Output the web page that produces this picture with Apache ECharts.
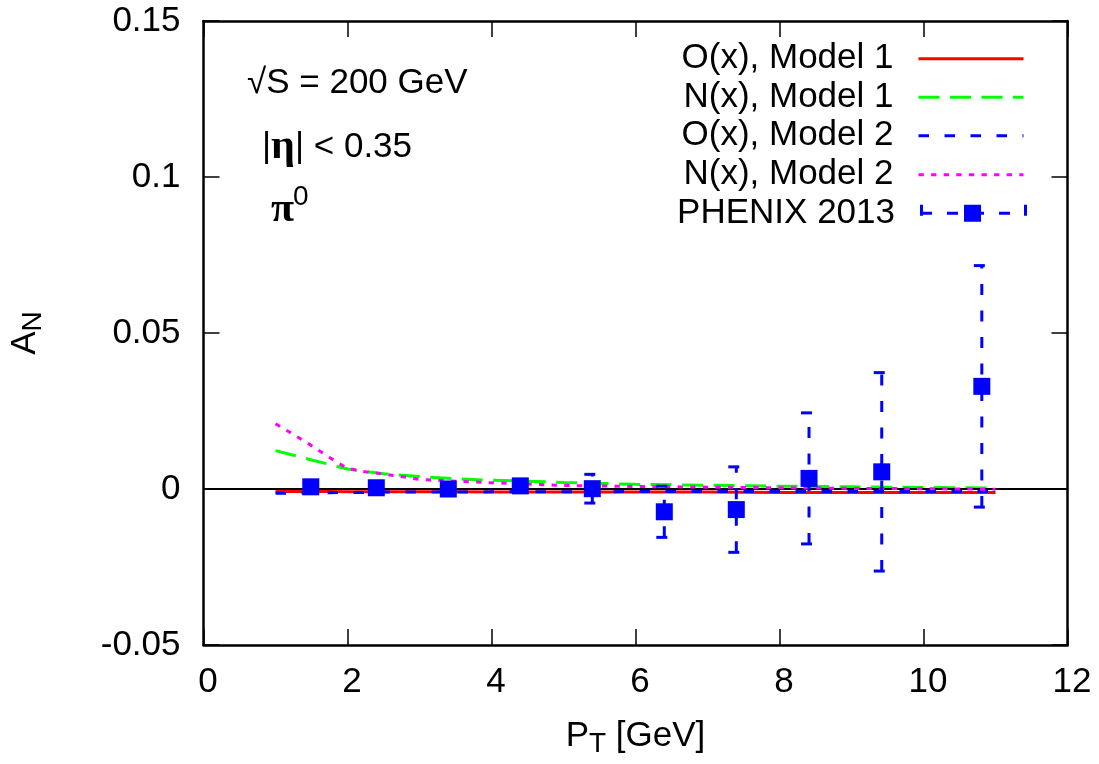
<!DOCTYPE html>
<html><head><meta charset="utf-8">
<script src="https://cdn.jsdelivr.net/npm/echarts@6/dist/echarts.min.js"></script>
<style>html,body{margin:0;padding:0;background:#fff}#c{width:1099px;height:764px}</style>
</head><body><div id="c"></div>
<script>
// ---- data ----
const modelX  = [1, 1.25, 1.5, 1.75, 2, 2.25, 2.5, 3, 3.5, 4, 4.5, 5, 5.5, 6, 7, 8, 9, 10, 11];
const oModel1 = [-0.0008,-0.0008,-0.0008,-0.0008,-0.0009,-0.0009,-0.0009,-0.0009,-0.0009,-0.0010,-0.0010,-0.0010,-0.0010,-0.0010,-0.0010,-0.0011,-0.0011,-0.0011,-0.0011];
const nModel1 = [0.0123,0.0108,0.0093,0.0079,0.0064,0.0056,0.0049,0.0040,0.0033,0.0028,0.0025,0.0021,0.0018,0.0015,0.0012,0.0009,0.0007,0.0005,0.0003];
const oModel2 = [-0.0014,-0.0013,-0.0012,-0.0012,-0.0011,-0.0011,-0.0010,-0.0010,-0.0010,-0.0009,-0.0009,-0.0009,-0.0009,-0.0008,-0.0008,-0.0008,-0.0008,-0.0008,-0.0008];
const nModel2 = [0.0209,0.0175,0.0139,0.0101,0.0066,0.0055,0.0048,0.0031,0.0025,0.0020,0.0016,0.0011,0.0010,0.0008,0.0006,0.0004,0.0002,0.0001,-0.0001];
const phenixX   = [1.49, 2.40, 3.40, 4.40, 5.40, 6.40, 7.40, 8.41, 9.42, 10.81];
const phenixY   = [0.0007, 0.0004, 0.0000, 0.0010, 0.0001, -0.0073, -0.0066, 0.0034, 0.0055, 0.0329];
const phenixErr = [0.0012, 0.0011, 0.0012, 0.0013, 0.0046, 0.0082, 0.0137, 0.0210, 0.0318, 0.0387];
const seriesNames = ['O(x), Model 1', 'N(x), Model 1', 'O(x), Model 2', 'N(x), Model 2', 'PHENIX 2013'];
const xTicks = {min: 0, max: 12, interval: 2};
const yTicks = {min: -0.05, max: 0.15, interval: 0.05};

const SANS = '"Liberation Sans", Arial, sans-serif';
const SERIF = '"Liberation Serif", "DejaVu Serif", serif';
const BLACK = '#000000';

const pair = (xs, ys) => xs.map((x, i) => [x, ys[i]]);

const phenixIcon = 'path://M0 0H3V11H0Z M0 7H12V10H0Z M27 7H38V10H27Z M44 0H61V17H44Z M61 7H64V10H61Z M79 7H90V10H79Z M104 0H107V11H104Z';

const legendTops = [41.3, 79.7, 118.3, 157.3, 195.7];
const legends = seriesNames.map((name, i) => {
  const isData = i === 4;
  const lg = {
    data: [name],
    orient: 'vertical',
    align: 'right',
    right: isData ? 72 : 74,
    top: legendTops[i],
    padding: 0,
    itemWidth: isData ? 107 : 105,
    itemHeight: 17,
    selectedMode: false,
    formatter: '{t|{name}}',
    textStyle: {
      color: BLACK,
      fontFamily: SANS,
      fontSize: 35,
      rich: { t: { color: BLACK, fontFamily: SANS, fontSize: 35, lineHeight: 36, padding: [0, 20, 0, 0] } }
    },
    lineStyle: { width: 3 }
  };
  if (isData) lg.icon = phenixIcon;
  else lg.itemStyle = { opacity: 0 };
  return lg;
});

const axisLineStyle = { color: BLACK, width: 2.5 };
const tickStyle = { show: true, inside: true, length: 16, lineStyle: { color: BLACK, width: 1.5 } };

const option = {
  animation: false,
  backgroundColor: '#ffffff',
  grid: { left: 203.5, right: 31.5, top: 21, bottom: 119, containLabel: false, outerBoundsMode: 'none' },
  legend: legends,
  xAxis: [
    {
      type: 'value', min: xTicks.min, max: xTicks.max, interval: xTicks.interval, position: 'bottom',
      axisLine: { show: true, onZero: false, lineStyle: axisLineStyle },
      axisTick: tickStyle,
      splitLine: { show: false },
      axisLabel: { show: true, color: BLACK, fontFamily: SANS, fontSize: 35, margin: 20, padding: [0, 0, 0, 9] },
      name: '{p|P}{s|T}{g| [GeV]}',
      nameLocation: 'middle',
      nameGap: 69.5,
      nameTextStyle: {
        color: BLACK, fontFamily: SANS, fontSize: 35,
        rich: {
          p: { color: BLACK, fontFamily: SANS, fontSize: 35, lineHeight: 44, verticalAlign: 'middle' },
          s: { color: BLACK, fontFamily: SANS, fontSize: 28, lineHeight: 14, verticalAlign: 'bottom' },
          g: { color: BLACK, fontFamily: SANS, fontSize: 35, lineHeight: 44, verticalAlign: 'middle' }
        }
      }
    },
    {
      type: 'value', min: xTicks.min, max: xTicks.max, interval: xTicks.interval, position: 'top',
      axisLine: { show: true, onZero: false, lineStyle: axisLineStyle },
      axisTick: tickStyle,
      splitLine: { show: false },
      axisLabel: { show: false }
    }
  ],
  yAxis: [
    {
      type: 'value', min: yTicks.min, max: yTicks.max, interval: yTicks.interval, position: 'left',
      axisLine: { show: true, onZero: false, lineStyle: axisLineStyle },
      axisTick: tickStyle,
      splitLine: { show: false },
      axisLabel: { show: true, color: BLACK, fontFamily: SANS, fontSize: 35, margin: 23 },
      name: '{a|A}{n|N}',
      nameLocation: 'middle',
      nameRotate: 90,
      nameGap: 156,
      nameTextStyle: {
        color: BLACK, fontFamily: SANS, fontSize: 35,
        rich: {
          a: { color: BLACK, fontFamily: SANS, fontSize: 35, lineHeight: 44, verticalAlign: 'middle' },
          n: { color: BLACK, fontFamily: SANS, fontSize: 28, lineHeight: 14, verticalAlign: 'bottom' }
        }
      }
    },
    {
      type: 'value', min: yTicks.min, max: yTicks.max, interval: yTicks.interval, position: 'right',
      axisLine: { show: true, onZero: false, lineStyle: axisLineStyle },
      axisTick: tickStyle,
      splitLine: { show: false },
      axisLabel: { show: false }
    }
  ],
  graphic: [
    { type: 'text', x: 247, y: 83, silent: true,
      style: { text: '√S = 200 GeV', font: '35px ' + SANS, fill: BLACK, align: 'left', verticalAlign: 'middle' } },
    { type: 'text', x: 262, y: 147, silent: true,
      style: { text: '{s||}{g|η}{s|| < 0.35}', fill: BLACK, align: 'left', verticalAlign: 'middle',
        rich: {
          s: { fontFamily: SANS, fontSize: 35, fill: BLACK, lineHeight: 40 },
          g: { fontFamily: SERIF, fontSize: 42, fontWeight: 'bold', fill: BLACK, lineHeight: 40 }
        } } },
    { type: 'text', x: 271, y: 210, silent: true,
      style: { text: 'π', font: 'bold 42px ' + SERIF, fill: BLACK, align: 'left', verticalAlign: 'middle' } },
    { type: 'text', x: 293, y: 197, silent: true,
      style: { text: '0', font: '28px ' + SANS, fill: BLACK, align: 'left', verticalAlign: 'middle' } }
  ],
  series: [
    {
      name: seriesNames[0], type: 'line', data: pair(modelX, oModel1), symbol: 'none', smooth: false,
      lineStyle: { color: '#ff0000', width: 3, type: 'solid' }, itemStyle: { color: '#ff0000' }, z: 2,
      markLine: {
        silent: true, symbol: 'none', label: { show: false }, animation: false,
        lineStyle: { color: BLACK, width: 2, type: 'solid' },
        data: [{ yAxis: 0 }]
      }
    },
    {
      name: seriesNames[1], type: 'line', data: pair(modelX, nModel1), symbol: 'none',
      lineStyle: { color: '#00ff00', width: 3, type: [21, 10.5] }, itemStyle: { color: '#00ff00' }, z: 3
    },
    {
      name: seriesNames[2], type: 'line', data: pair(modelX, oModel2), symbol: 'none',
      lineStyle: { color: '#0000ff', width: 3, type: [10.5, 15.5] }, itemStyle: { color: '#0000ff' }, z: 4
    },
    {
      name: seriesNames[3], type: 'line', data: pair(modelX, nModel2), symbol: 'none',
      lineStyle: { color: '#ff00ff', width: 3, type: [5.3, 7.3] }, itemStyle: { color: '#ff00ff' }, z: 5
    },
    {
      name: 'PHENIX errors', type: 'custom', z: 6,
      data: phenixX.map((x, i) => [x, phenixY[i], phenixErr[i]]),
      encode: { x: 0, y: 1 },
      renderItem: function (params, api) {
        const x = api.value(0), y = api.value(1), e = api.value(2);
        const lo = api.coord([x, y - e]);
        const hi = api.coord([x, y + e]);
        const st = { stroke: '#0000ff', lineWidth: 3, lineDash: [11, 15.5], fill: null };
        return {
          type: 'group',
          children: [
            { type: 'line', shape: { x1: lo[0] - 8, y1: lo[1], x2: lo[0] + 8, y2: lo[1] }, style: st },
            { type: 'line', shape: { x1: lo[0], y1: lo[1], x2: hi[0], y2: hi[1] }, style: st },
            { type: 'line', shape: { x1: hi[0] - 8, y1: hi[1], x2: hi[0] + 8, y2: hi[1] }, style: st }
          ]
        };
      }
    },
    {
      name: seriesNames[4], type: 'scatter', data: pair(phenixX, phenixY),
      symbol: 'rect', symbolSize: 17, itemStyle: { color: '#0000ff', opacity: 1 }, z: 7
    }
  ]
};

const chart = echarts.init(document.getElementById('c'), null, { renderer: 'canvas' });
chart.setOption(option);
</script>
</body></html>
